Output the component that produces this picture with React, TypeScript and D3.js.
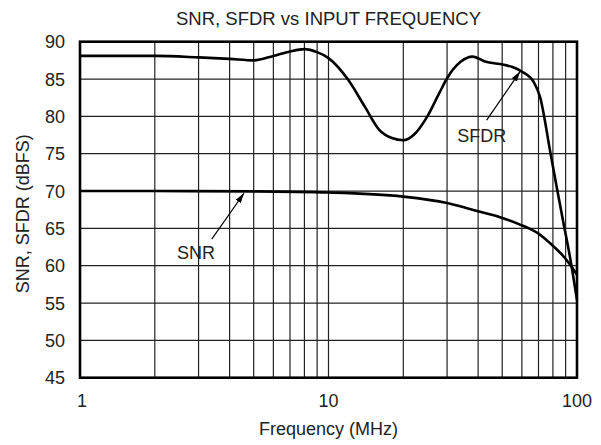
import React from 'react'
import * as d3 from 'd3'

// frequency in MHz, level in dBFS
const sfdrFreq = [1, 2, 3, 4, 5, 6, 7, 8, 9, 10, 12, 14, 16, 18, 20, 22, 25, 28, 30, 34, 38, 43, 49, 55, 60, 67, 71, 78, 83, 88, 94, 100]
const sfdrDb = [88.1, 88.1, 87.9, 87.7, 87.5, 88.1, 88.7, 89.0, 88.6, 87.8, 84.9, 81.3, 78.2, 77.1, 76.8, 77.5, 80.0, 83.2, 85.1, 87.3, 88.0, 87.3, 87.0, 86.6, 86.0, 84.6, 82.6, 75.3, 70.4, 65.9, 60.9, 55.4]

const snrFreq = [1, 2, 5, 10, 20, 30, 40, 49, 59, 65, 70, 78, 88, 94, 100]
const snrDb = [70.0, 70.0, 69.95, 69.8, 69.25, 68.4, 67.3, 66.5, 65.5, 64.9, 64.3, 63.0, 61.3, 60.1, 58.8]

const xTicks = [1, 10, 100]
const xGrid = [2, 3, 4, 5, 6, 7, 8, 9, 10, 20, 30, 40, 50, 60, 70, 80, 90]
const yTicks = [45, 50, 55, 60, 65, 70, 75, 80, 85, 90]

// annotation: label anchor and arrow tail/tip, in data units
const notes = [
    { label: 'SNR', text: [2.93, 60.9], from: [3.39, 63.55], to: [4.57, 69.7] },
    { label: 'SFDR', text: [41.4, 76.6], from: [43.3, 79.5], to: [59, 86.0] },
]

const width = 601
const height = 445
const left = 80
const right = 577
const top = 41.7
const bottom = 377.7
const font = '"Liberation Sans", Arial, Helvetica, sans-serif'

export default function App() {
    const x = d3.scaleLog().domain([1, 100]).range([left, right])
    const y = d3.scaleLinear().domain([45, 90]).range([bottom, top])

    const line = d3.line<number>()
        .x(d => d[0])
        .y(d => d[1])
        .curve(d3.curveMonotoneX)

    const sfdrPath = line(sfdrFreq.map((f, i) => [x(f), y(sfdrDb[i])]) as any)
    const snrPath = line(snrFreq.map((f, i) => [x(f), y(snrDb[i])]) as any)

    return (
        <svg
            width={width}
            height={height}
            style={{ position: 'absolute', left: 0, top: 0, background: '#fff' }}
            fontFamily={font}
        >
            <defs>
                <marker id="head" viewBox="0 0 10 6" refX="10" refY="3" markerWidth="10" markerHeight="6" markerUnits="userSpaceOnUse" orient="auto">
                    <path d="M0,0 L10,3 L0,6 Z" fill="#000" />
                </marker>
            </defs>
            <rect width={width} height={height} fill="#fff" />

            <text x={(left + right) / 2} y={25} textAnchor="middle" fontSize={18.5} fill="#222">
                SNR, SFDR vs INPUT FREQUENCY
            </text>

            {yTicks.map(t => (
                <g key={'y' + t}>
                    <line x1={left} x2={right} y1={y(t)} y2={y(t)} stroke="#222" strokeWidth={1.2} />
                    <text x={65} y={y(t)} dy="0.36em" textAnchor="end" fontSize={18} fill="#222">{t}</text>
                </g>
            ))}
            {xGrid.map(t => (
                <line key={'x' + t} x1={x(t)} x2={x(t)} y1={top} y2={bottom} stroke="#222" strokeWidth={1.2} />
            ))}
            {xTicks.map(t => (
                <text key={'xt' + t} x={x(t) + (t === 1 ? 2 : 0)} y={407} textAnchor="middle" fontSize={18} fill="#222">{t}</text>
            ))}

            <rect x={left} y={top} width={right - left} height={bottom - top} fill="none" stroke="#000" strokeWidth={2.6} />

            <path d={sfdrPath || ''} fill="none" stroke="#000" strokeWidth={2.6} />
            <path d={snrPath || ''} fill="none" stroke="#000" strokeWidth={2.6} />

            {notes.map(n => (
                <g key={n.label}>
                    <line
                        x1={x(n.from[0])} y1={y(n.from[1])}
                        x2={x(n.to[0])} y2={y(n.to[1])}
                        stroke="#000" strokeWidth={1.2} markerEnd="url(#head)"
                    />
                    <text x={x(n.text[0])} y={y(n.text[1])} textAnchor="middle" fontSize={18} fill="#222">{n.label}</text>
                </g>
            ))}

            <text x={(left + right) / 2} y={435} textAnchor="middle" fontSize={18} fill="#222">Frequency (MHz)</text>
            <text transform={`translate(28.5 ${(top + bottom) / 2 + 4}) rotate(-90)`} textAnchor="middle" fontSize={18} fill="#222">
                SNR, SFDR (dBFS)
            </text>
        </svg>
    )
}
